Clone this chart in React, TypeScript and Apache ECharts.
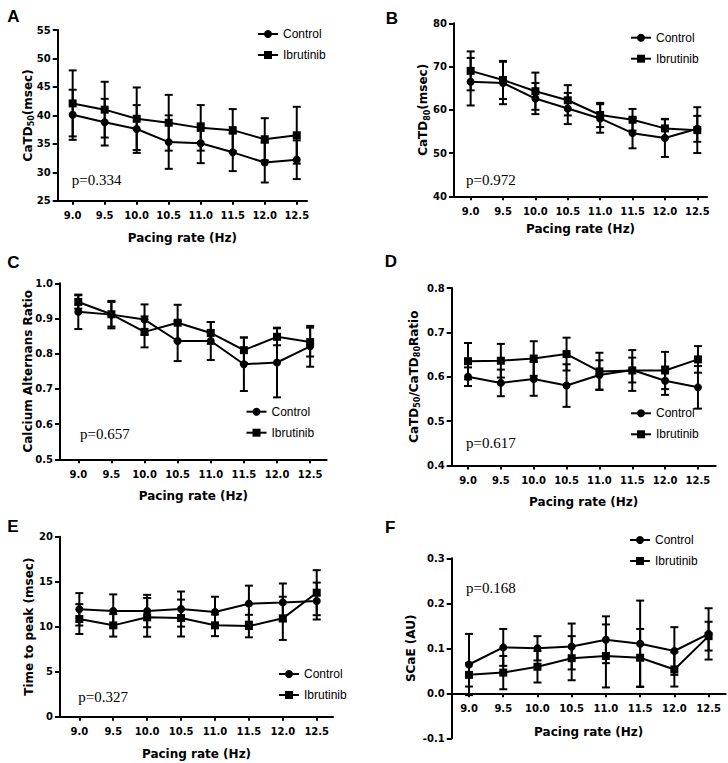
import React, { useEffect, useRef } from "react";
import * as echarts from "echarts";

// ---------- data ----------
const rates = [9.0, 9.5, 10.0, 10.5, 11.0, 11.5, 12.0, 12.5];
const seriesNames = ["Control", "Ibrutinib"];

// A: CaTD50 (msec)
const controlA = [40.1, 38.8, 37.6, 35.3, 35.1, 33.5, 31.7, 32.2];
const controlSdA = [4.4, 4.1, 4.2, 4.7, 3.5, 3.3, 3.5, 3.4];
const ibrutinibA = [42.1, 41.0, 39.4, 38.7, 37.8, 37.4, 35.8, 36.5];
const ibrutinibSdA = [5.8, 4.9, 5.5, 4.9, 4.0, 3.7, 3.7, 5.0];

// B: CaTD80 (msec)
const controlB = [66.5, 66.2, 62.6, 60.3, 58.0, 54.6, 53.5, 55.6];
const controlSdB = [5.5, 4.9, 3.6, 3.6, 3.3, 3.5, 4.4, 3.0];
const ibrutinibB = [69.0, 66.9, 64.3, 62.2, 58.8, 57.7, 55.7, 55.3];
const ibrutinibSdB = [4.5, 4.4, 4.3, 3.5, 2.8, 2.5, 2.1, 5.3];

// C: Calcium alternans ratio
const controlC = [0.919, 0.911, 0.897, 0.836, 0.836, 0.77, 0.775, 0.821];
const controlSdC = [0.049, 0.039, 0.043, 0.057, 0.054, 0.076, 0.099, 0.058];
const ibrutinibC = [0.947, 0.912, 0.862, 0.888, 0.859, 0.81, 0.848, 0.833];
const ibrutinibSdC = [0.019, 0.035, 0.044, 0.051, 0.031, 0.036, 0.024, 0.041];

// D: CaTD50/CaTD80 ratio
const controlD = [0.6, 0.586, 0.595, 0.58, 0.604, 0.615, 0.591, 0.576];
const controlSdD = [0.021, 0.03, 0.038, 0.048, 0.033, 0.028, 0.032, 0.048];
const ibrutinibD = [0.635, 0.636, 0.641, 0.651, 0.612, 0.614, 0.614, 0.639];
const ibrutinibSdD = [0.041, 0.038, 0.039, 0.037, 0.042, 0.046, 0.042, 0.03];

// E: Time to peak (msec)
const controlE = [11.93, 11.74, 11.74, 11.96, 11.63, 12.56, 12.7, 12.85];
const controlSdE = [1.8, 1.85, 1.8, 1.95, 1.7, 2.0, 2.1, 2.05];
const ibrutinibE = [10.85, 10.15, 11.04, 10.96, 10.15, 10.07, 10.93, 13.78];
const ibrutinibSdE = [1.66, 1.25, 2.15, 2.05, 1.2, 1.25, 2.4, 2.5];

// F: SCaE (AU)
const controlF = [0.064, 0.102, 0.1, 0.104, 0.119, 0.11, 0.094, 0.132];
const controlSdF = [0.068, 0.041, 0.027, 0.051, 0.052, 0.096, 0.053, 0.057];
const ibrutinibF = [0.041, 0.046, 0.059, 0.078, 0.083, 0.079, 0.053, 0.127];
const ibrutinibSdF = [0.026, 0.037, 0.035, 0.049, 0.07, 0.064, 0.038, 0.032];

const panelLetters = ["A", "B", "C", "D", "E", "F"];
const pValues = ["p=0.334", "p=0.972", "p=0.657", "p=0.617", "p=0.327", "p=0.168"];
const yTitles = [
  "CaTD{sub|50}(msec)",
  "CaTD{sub|80}(msec)",
  "Calcium Alternans Ratio",
  "CaTD{sub|50}/CaTD{sub|80}Ratio",
  "Time to peak (msec)",
  "SCaE (AU)",
];
const xTitle = "Pacing rate (Hz)";
const yMins = [25, 40, 0.5, 0.4, 0, -0.1];
const yMaxs = [55, 80, 1.0, 0.8, 20, 0.3];
const yIntervals = [5, 10, 0.1, 0.1, 5, 0.1];
const yDecimals = [0, 0, 1, 1, 0, 1];

const controlMeans = [controlA, controlB, controlC, controlD, controlE, controlF];
const controlSds = [controlSdA, controlSdB, controlSdC, controlSdD, controlSdE, controlSdF];
const ibrutinibMeans = [ibrutinibA, ibrutinibB, ibrutinibC, ibrutinibD, ibrutinibE, ibrutinibF];
const ibrutinibSds = [ibrutinibSdA, ibrutinibSdB, ibrutinibSdC, ibrutinibSdD, ibrutinibSdE, ibrutinibSdF];

// ---------- layout ----------
// zeroY: panel whose x axis crosses at y = 0 (data grid ends there, full y axis drawn in an overlay grid)
const layouts: any[] = [
  { grid: { left: 57.7, top: 30, width: 249.3, height: 170.7 }, xMin: 8.766, xMax: 12.66, yGap: 22, xGap: 31, legend: [257, 27], p: [71.7, 180], letter: [7.3, 16.4] },
  { grid: { left: 454, top: 23.3, width: 253, height: 173 }, xMin: 8.743, xMax: 12.65, yGap: 23, xGap: 27, legend: [630, 30.7], p: [466, 179.5], letter: [385.7, 18] },
  { grid: { left: 60, top: 283.3, width: 266.7, height: 176 }, xMin: 8.724, xMax: 12.75, yGap: 24, xGap: 31, legend: [245.5, 404.7], p: [80, 434], letter: [7.3, 262] },
  { grid: { left: 451.7, top: 288, width: 264, height: 177.4 }, xMin: 8.752, xMax: 12.77, yGap: 30, xGap: 31, legend: [630, 406.3], p: [466, 443.3], letter: [384.7, 261.3] },
  { grid: { left: 60, top: 536.7, width: 273, height: 180 }, xMin: 8.715, xMax: 12.74, yGap: 23, xGap: 31, legend: [278, 667], p: [78.3, 696.7], letter: [7.3, 526.7] },
  { grid: { left: 451.7, top: 558.3, width: 274, height: 180 }, xMin: 8.747, xMax: 12.75, yGap: 33, xGap: 33, legend: [629, 533], p: [466, 588.3], letter: [385, 527.8], zeroY: 693.3 },
];

const BOLD_FONT = "DejaVu Sans";
const BLACK = "#000";

function errorRender(params: any, api: any) {
  const x = api.value(0);
  const m = api.value(1);
  const s = api.value(2);
  const top = api.coord([x, m + s]);
  const bot = api.coord([x, m - s]);
  const hw = 4;
  const st = { stroke: BLACK, lineWidth: 2 };
  return {
    type: "group",
    children: [
      { type: "line", shape: { x1: top[0], y1: top[1], x2: bot[0], y2: bot[1] }, style: st },
      { type: "line", shape: { x1: top[0] - hw, y1: top[1], x2: top[0] + hw, y2: top[1] }, style: st },
      { type: "line", shape: { x1: bot[0] - hw, y1: bot[1], x2: bot[0] + hw, y2: bot[1] }, style: st },
    ],
  };
}

function buildOption() {
  const grid: any[] = [];
  const xAxis: any[] = [];
  const yAxis: any[] = [];
  const series: any[] = [];
  const legend: any[] = [];
  const graphic: any[] = [];
  const extraGrids: any[] = [];
  const extraX: any[] = [];
  const extraY: any[] = [];

  const axisFont = { fontFamily: BOLD_FONT, fontWeight: "bold", fontSize: 10, color: BLACK };
  const nameFont = { fontFamily: BOLD_FONT, fontWeight: "bold", fontSize: 12, color: BLACK };
  const axisLineStyle = { color: BLACK, width: 2 };

  const makeY = (i: number, gridIndex: number, min: number, max: number) => {
    const dec = yDecimals[i];
    return {
      type: "value",
      gridIndex,
      min,
      max,
      interval: yIntervals[i],
      axisLine: { show: true, onZero: false, lineStyle: axisLineStyle },
      axisTick: { show: true, length: 5, lineStyle: axisLineStyle },
      axisLabel: { show: true, formatter: (v: number) => v.toFixed(dec), margin: 7, ...axisFont },
      splitLine: { show: false },
      name: yTitles[i],
      nameLocation: "middle",
      nameRotate: 90,
      nameGap: layouts[i].yGap,
      nameMoveOverlap: false,
      nameTextStyle: {
        ...nameFont,
        lineHeight: 16,
        rich: {
          sub: { fontFamily: BOLD_FONT, fontWeight: "bold", fontSize: 8, color: BLACK, lineHeight: 9, verticalAlign: "bottom" },
        },
      },
    };
  };

  layouts.forEach((L, i) => {
    const hasZero = typeof L.zeroY === "number";
    const dataGrid = hasZero ? { ...L.grid, height: L.zeroY - L.grid.top } : L.grid;
    grid.push({ ...dataGrid, containLabel: false });

    xAxis.push({
      type: "value",
      gridIndex: i,
      min: L.xMin,
      max: L.xMax,
      axisLine: { show: true, onZero: false, lineStyle: axisLineStyle },
      axisTick: { show: true, customValues: rates, length: 4, lineStyle: axisLineStyle },
      axisLabel: { show: true, customValues: rates, formatter: (v: number) => v.toFixed(1), margin: 10, ...axisFont },
      splitLine: { show: false },
      name: xTitle,
      nameLocation: "middle",
      nameGap: L.xGap,
      nameMoveOverlap: false,
      nameTextStyle: nameFont,
    });

    if (hasZero) {
      // data grid y axis spans 0..max (hidden); full visible axis in overlay grid
      yAxis.push({ type: "value", gridIndex: i, min: 0, max: yMaxs[i], show: false });
      extraGrids.push({ ...L.grid, containLabel: false });
      extraX.push({ type: "value", min: L.xMin, max: L.xMax, show: false, _g: true });
      extraY.push({ ...makeY(i, -1, yMins[i], yMaxs[i]) });
    } else {
      yAxis.push(makeY(i, i, yMins[i], yMaxs[i]));
    }

    const groups = [
      { name: seriesNames[0], means: controlMeans[i], sds: controlSds[i], symbol: "circle" },
      { name: seriesNames[1], means: ibrutinibMeans[i], sds: ibrutinibSds[i], symbol: "rect" },
    ];
    groups.forEach((g) => {
      series.push({
        type: "custom",
        name: g.name + " SD",
        xAxisIndex: i,
        yAxisIndex: i,
        silent: true,
        clip: false,
        z: 2,
        encode: { x: 0, y: 1 },
        data: rates.map((r, j) => [r, g.means[j], g.sds[j]]),
        renderItem: errorRender,
      });
      series.push({
        type: "line",
        name: g.name,
        xAxisIndex: i,
        yAxisIndex: i,
        z: 3,
        symbol: g.symbol,
        symbolSize: 8,
        showSymbol: true,
        itemStyle: { color: BLACK },
        lineStyle: { color: BLACK, width: 2 },
        data: rates.map((r, j) => [r, g.means[j]]),
      });
    });

    legend.push({
      orient: "vertical",
      left: L.legend[0],
      top: L.legend[1],
      padding: 0,
      itemWidth: 20,
      itemHeight: 10,
      itemGap: 7,
      selectedMode: false,
      data: seriesNames,
      textStyle: { fontFamily: "Liberation Sans", fontSize: 12, lineHeight: 14, color: BLACK },
    });

    graphic.push({
      type: "text",
      left: L.letter[0],
      top: L.letter[1] - 8.5,
      style: { text: panelLetters[i], fontFamily: "Liberation Sans", fontWeight: "bold", fontSize: 17, fill: BLACK },
    });
    graphic.push({
      type: "text",
      x: L.p[0],
      y: L.p[1],
      style: {
        text: pValues[i],
        fontFamily: "Liberation Serif",
        fontSize: 15,
        fill: BLACK,
        textAlign: "left",
        textVerticalAlign: "middle",
      },
    });
  });

  // append overlay grids / axes
  extraGrids.forEach((g, k) => {
    const gi = grid.length;
    grid.push(g);
    const { _g, ...xa } = extraX[k];
    xAxis.push({ ...xa, gridIndex: gi });
    yAxis.push({ ...extraY[k], gridIndex: gi });
  });

  return {
    animation: false,
    backgroundColor: "#fff",
    grid,
    xAxis,
    yAxis,
    series,
    legend,
    graphic,
  };
}

export default function App() {
  const ref = useRef<HTMLDivElement>(null);
  useEffect(() => {
    if (!ref.current) return;
    const chart = echarts.init(ref.current, undefined, { renderer: "svg" });
    chart.setOption(buildOption() as any);
    return () => chart.dispose();
  }, []);
  return (
    <div
      ref={ref}
      style={{ position: "absolute", left: 0, top: 0, width: 728, height: 763, background: "#fff" }}
    />
  );
}
